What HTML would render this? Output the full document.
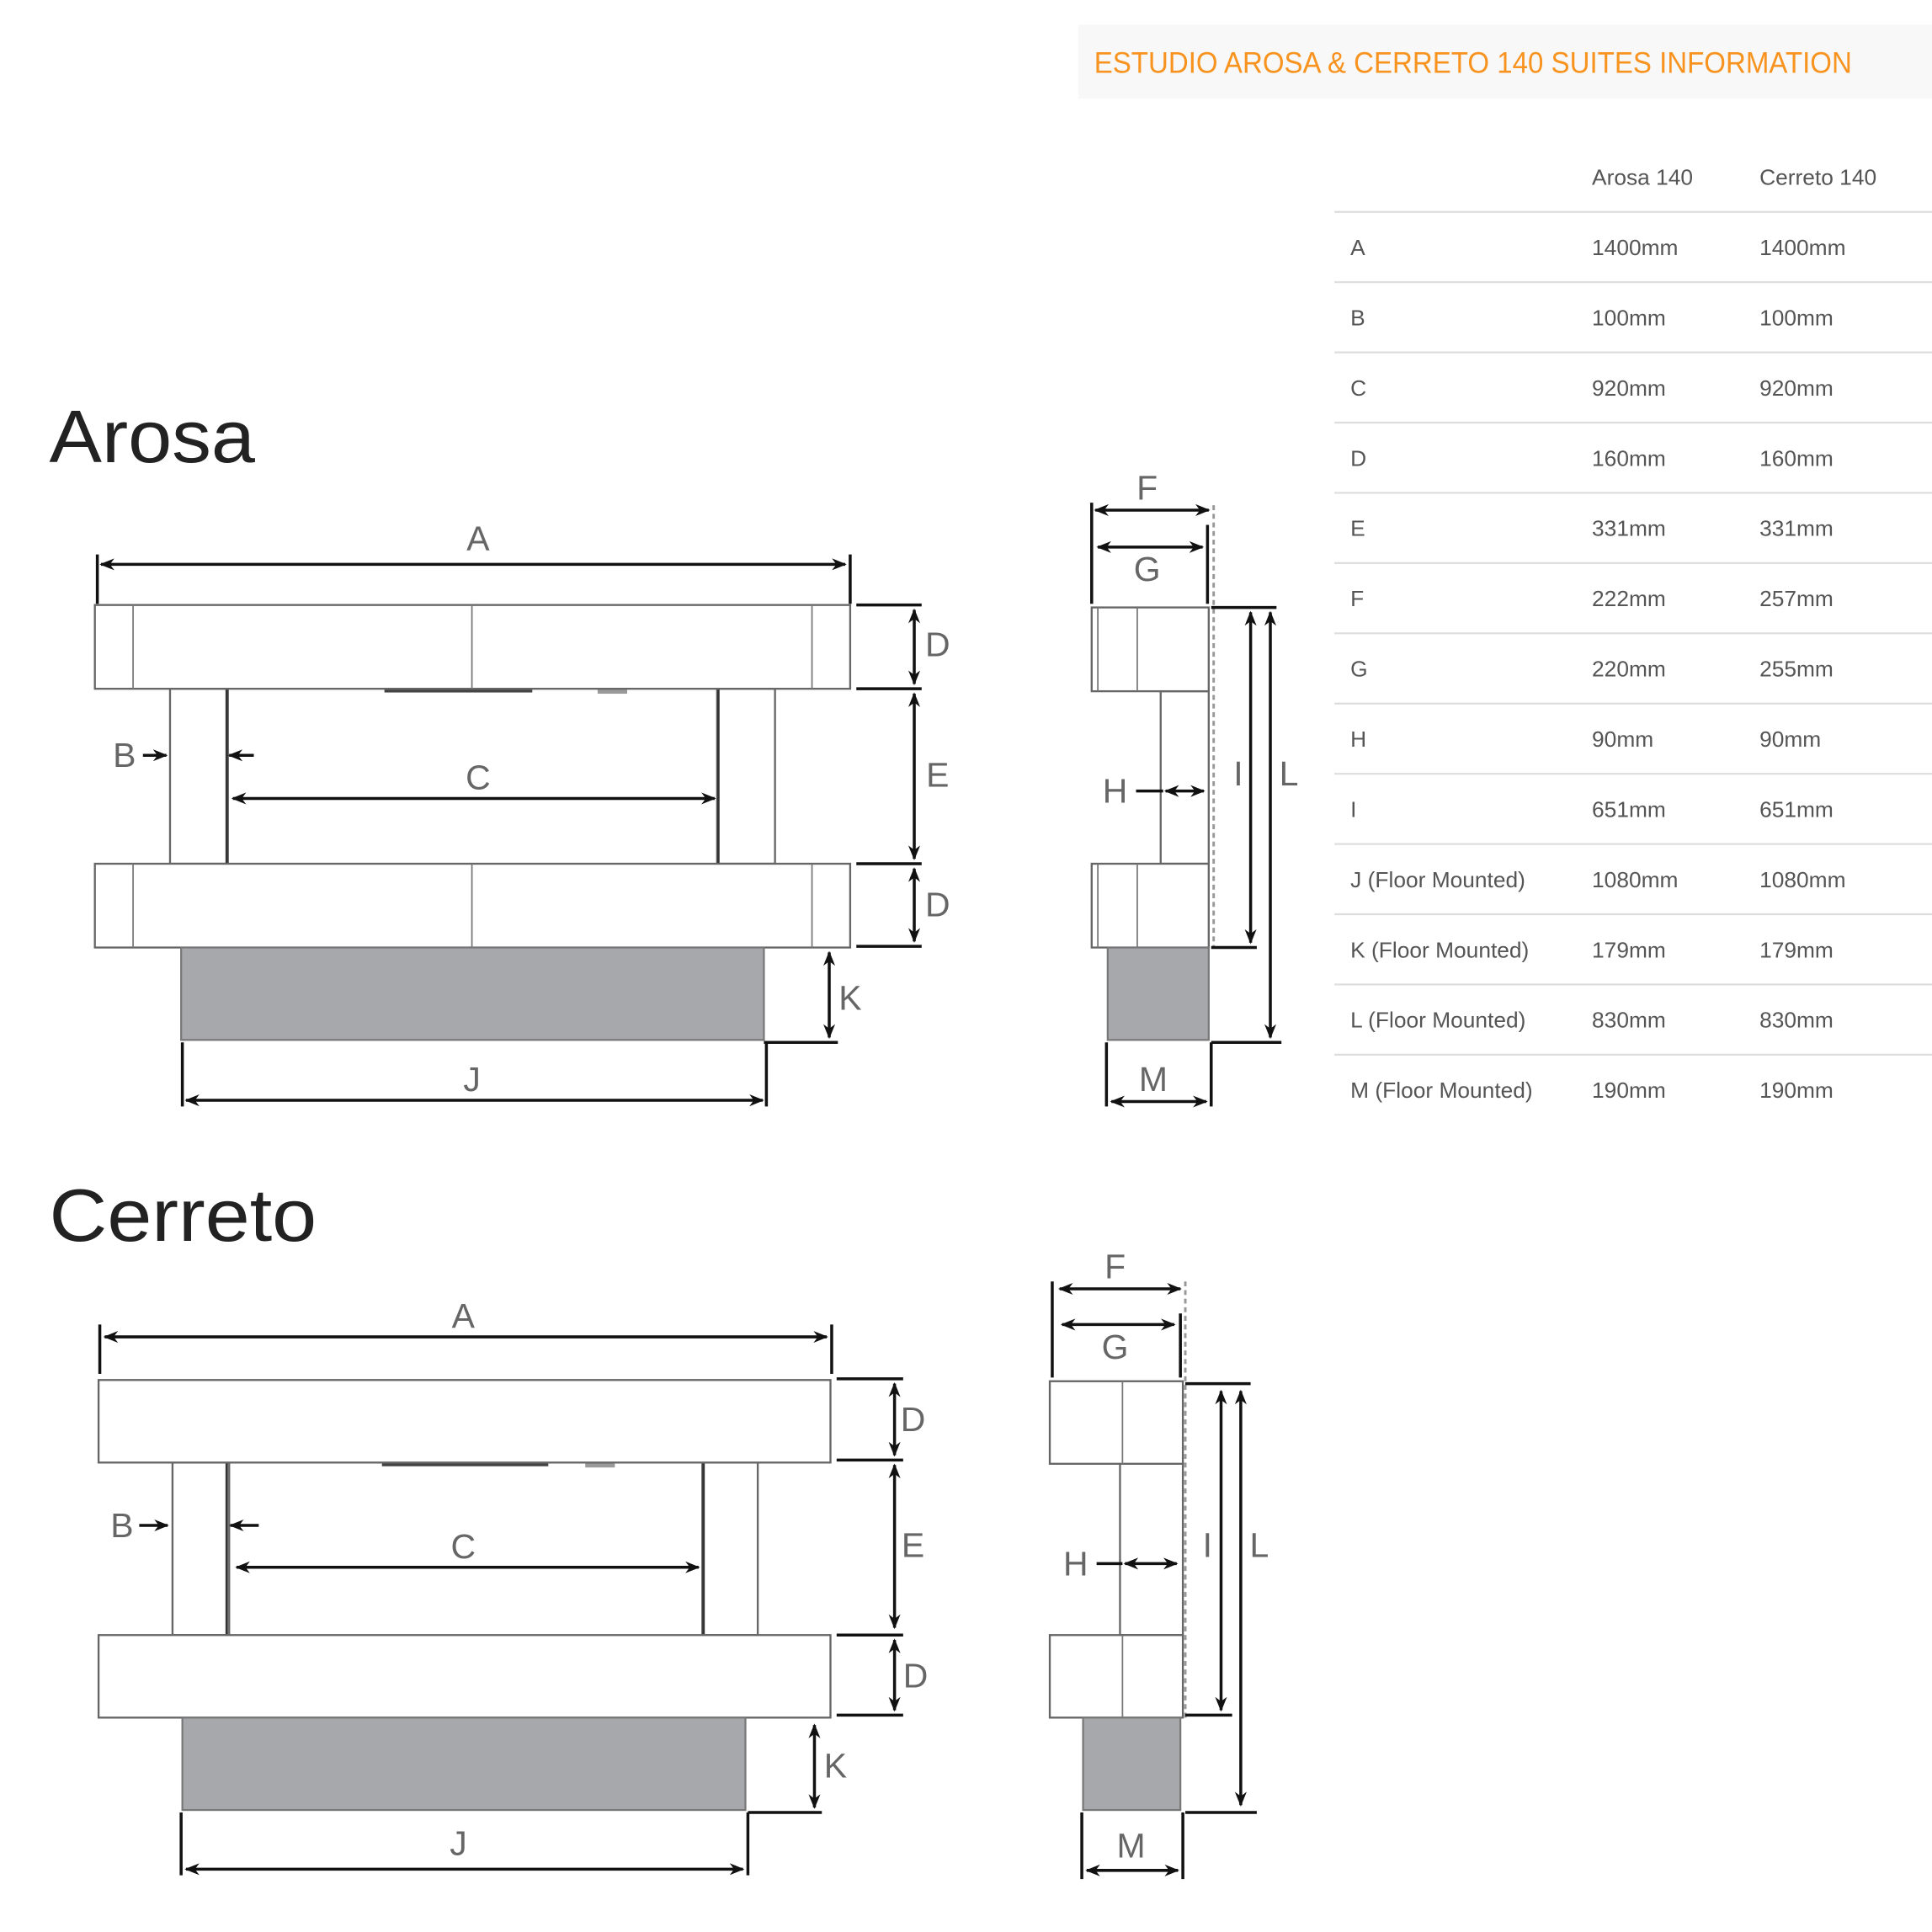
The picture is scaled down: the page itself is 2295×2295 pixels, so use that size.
<!DOCTYPE html>
<html><head><meta charset="utf-8"><style>
html,body{margin:0;padding:0;background:#fff}
svg{display:block}
.t{font-family:"Liberation Sans",sans-serif;fill:#555;font-size:18px}
.l{font-family:"Liberation Sans",sans-serif;fill:#666;font-size:28px;text-anchor:middle;dominant-baseline:central}
.box{fill:#fff;stroke:#666;stroke-width:1.6}
.thin{stroke:#777;stroke-width:1.2;fill:none}
.dim{stroke:#111;stroke-width:2.4;fill:none}
.dimA{stroke:#111;stroke-width:2.4;fill:none;marker-start:url(#ar);marker-end:url(#ar)}
.grey{fill:#a7a8ab;stroke:#777;stroke-width:1.5}
.rule{stroke:#ddd;stroke-width:1.5}
</style></head><body>
<svg width="2295" height="2295" viewBox="0 0 1568 1568" xmlns="http://www.w3.org/2000/svg">
<defs>
<marker id="ar" viewBox="0 0 10 10" refX="9" refY="5" markerWidth="5" markerHeight="5" orient="auto-start-reverse" markerUnits="strokeWidth"><path d="M0,1 L10,5 L0,9 L3,5 z" fill="#111"/></marker>
</defs>
<!-- header -->
<rect x="875" y="20" width="693" height="60" fill="#f8f8f8"/>
<text x="888" y="59" font-family="Liberation Sans,sans-serif" font-size="24" fill="#f7931e" textLength="615" lengthAdjust="spacingAndGlyphs">ESTUDIO AROSA &amp; CERRETO 140 SUITES INFORMATION</text>
<!-- table -->
<text class="t" x="1292" y="150">Arosa 140</text>
<text class="t" x="1428" y="150">Cerreto 140</text>
<g>
<line class="rule" x1="1083" y1="172" x2="1568" y2="172"/>
<line class="rule" x1="1083" y1="229" x2="1568" y2="229"/>
<line class="rule" x1="1083" y1="286" x2="1568" y2="286"/>
<line class="rule" x1="1083" y1="343" x2="1568" y2="343"/>
<line class="rule" x1="1083" y1="400" x2="1568" y2="400"/>
<line class="rule" x1="1083" y1="457" x2="1568" y2="457"/>
<line class="rule" x1="1083" y1="514" x2="1568" y2="514"/>
<line class="rule" x1="1083" y1="571" x2="1568" y2="571"/>
<line class="rule" x1="1083" y1="628" x2="1568" y2="628"/>
<line class="rule" x1="1083" y1="685" x2="1568" y2="685"/>
<line class="rule" x1="1083" y1="742" x2="1568" y2="742"/>
<line class="rule" x1="1083" y1="799" x2="1568" y2="799"/>
<line class="rule" x1="1083" y1="856" x2="1568" y2="856"/>
</g>
<g class="t">
<text x="1096" y="207">A</text><text x="1292" y="207">1400mm</text><text x="1428" y="207">1400mm</text>
<text x="1096" y="264">B</text><text x="1292" y="264">100mm</text><text x="1428" y="264">100mm</text>
<text x="1096" y="321">C</text><text x="1292" y="321">920mm</text><text x="1428" y="321">920mm</text>
<text x="1096" y="378">D</text><text x="1292" y="378">160mm</text><text x="1428" y="378">160mm</text>
<text x="1096" y="435">E</text><text x="1292" y="435">331mm</text><text x="1428" y="435">331mm</text>
<text x="1096" y="492">F</text><text x="1292" y="492">222mm</text><text x="1428" y="492">257mm</text>
<text x="1096" y="549">G</text><text x="1292" y="549">220mm</text><text x="1428" y="549">255mm</text>
<text x="1096" y="606">H</text><text x="1292" y="606">90mm</text><text x="1428" y="606">90mm</text>
<text x="1096" y="663">I</text><text x="1292" y="663">651mm</text><text x="1428" y="663">651mm</text>
<text x="1096" y="720">J (Floor Mounted)</text><text x="1292" y="720">1080mm</text><text x="1428" y="720">1080mm</text>
<text x="1096" y="777">K (Floor Mounted)</text><text x="1292" y="777">179mm</text><text x="1428" y="777">179mm</text>
<text x="1096" y="834">L (Floor Mounted)</text><text x="1292" y="834">830mm</text><text x="1428" y="834">830mm</text>
<text x="1096" y="891">M (Floor Mounted)</text><text x="1292" y="891">190mm</text><text x="1428" y="891">190mm</text>
</g>
<!-- titles -->
<text x="40" y="375" font-family="Liberation Sans,sans-serif" font-size="60" fill="#222" textLength="167" lengthAdjust="spacingAndGlyphs">Arosa</text>
<text x="40" y="1007" font-family="Liberation Sans,sans-serif" font-size="60" fill="#222" textLength="217" lengthAdjust="spacingAndGlyphs">Cerreto</text>

<!-- AROSA FRONT -->
<rect class="box" x="138" y="559" width="47" height="142"/>
<rect class="box" x="582" y="559" width="47" height="142"/>
<line x1="184" y1="559" x2="184" y2="701" stroke="#333" stroke-width="2"/>
<line x1="583" y1="559" x2="583" y2="701" stroke="#333" stroke-width="2"/>
<rect x="312" y="558" width="120" height="4" fill="#444"/>
<rect x="485" y="558" width="24" height="5" fill="#999"/>
<rect class="box" x="77" y="491" width="613" height="68"/>
<line class="thin" x1="108" y1="491" x2="108" y2="559"/><line class="thin" x1="383" y1="491" x2="383" y2="559"/><line class="thin" x1="659" y1="491" x2="659" y2="559"/>
<rect class="box" x="77" y="701" width="613" height="68"/>
<line class="thin" x1="108" y1="701" x2="108" y2="769"/><line class="thin" x1="383" y1="701" x2="383" y2="769"/><line class="thin" x1="659" y1="701" x2="659" y2="769"/>
<rect class="grey" x="147" y="769" width="473" height="75"/>
<path class="dim" d="M79 450V490 M690 450V490 M695 491H748 M695 559H748 M695 701H748 M695 768H748 M620 846H680 M622 846V898 M148 846V898"/>
<line class="dimA" x1="82" y1="458" x2="686" y2="458"/>
<line class="dimA" x1="742" y1="495" x2="742" y2="555"/>
<line class="dimA" x1="742" y1="563" x2="742" y2="697"/>
<line class="dimA" x1="742" y1="705" x2="742" y2="764"/>
<line class="dimA" x1="673" y1="773" x2="673" y2="842"/>
<line class="dimA" x1="151" y1="893" x2="619" y2="893"/>
<line class="dimA" x1="189" y1="648" x2="580" y2="648"/>
<line class="dim" x1="116" y1="613" x2="135" y2="613" style="marker-end:url(#ar)"/>
<line class="dim" x1="206" y1="613" x2="186" y2="613" style="marker-end:url(#ar)"/>
<g class="l"><text x="388" y="437">A</text><text x="761" y="523">D</text><text x="761" y="629">E</text><text x="761" y="734">D</text><text x="690" y="810">K</text><text x="383" y="876">J</text><text x="101" y="613">B</text><text x="388" y="631">C</text></g>

<!-- AROSA SIDE -->
<rect class="box" x="942" y="561" width="39" height="140"/>
<rect class="box" x="886" y="493" width="95" height="68"/>
<line class="thin" x1="891" y1="493" x2="891" y2="561"/><line class="thin" x1="923" y1="493" x2="923" y2="561"/>
<rect class="box" x="886" y="701" width="95" height="68"/>
<line class="thin" x1="891" y1="701" x2="891" y2="769"/><line class="thin" x1="923" y1="701" x2="923" y2="769"/>
<rect class="grey" x="899" y="769" width="82" height="75"/>
<line x1="985" y1="410" x2="985" y2="769" stroke="#999" stroke-width="2" stroke-dasharray="4,3"/>
<path class="dim" d="M886 408V490 M980 426V490 M983 493H1036 M983 769H1020 M983 846H1040 M983 846V898 M898 846V898"/>
<line class="dimA" x1="889" y1="414" x2="981" y2="414"/>
<line class="dimA" x1="891" y1="444" x2="976" y2="444"/>
<line class="dimA" x1="1015" y1="497" x2="1015" y2="765"/>
<line class="dimA" x1="1031" y1="497" x2="1031" y2="842"/>
<line class="dimA" x1="902" y1="894" x2="979" y2="894"/>
<line class="dim" x1="922" y1="642" x2="944" y2="642"/>
<line class="dimA" x1="946" y1="642" x2="977" y2="642"/>
<g class="l"><text x="931" y="396">F</text><text x="931" y="462">G</text><text x="905" y="642">H</text><text x="1005" y="628">I</text><text x="1046" y="628">L</text><text x="936" y="876">M</text></g>

<!-- CERRETO FRONT -->
<rect class="box" x="140" y="1187" width="46" height="140"/>
<rect class="box" x="570" y="1187" width="45" height="140"/>
<line x1="184" y1="1187" x2="184" y2="1327" stroke="#333" stroke-width="2"/>
<line x1="571" y1="1187" x2="571" y2="1327" stroke="#333" stroke-width="2"/>
<rect x="310" y="1186" width="135" height="4" fill="#444"/>
<rect x="475" y="1186" width="24" height="5" fill="#999"/>
<rect class="box" x="80" y="1120" width="594" height="67"/>
<rect class="box" x="80" y="1327" width="594" height="67"/>
<rect class="grey" x="148" y="1394" width="457" height="75"/>
<path class="dim" d="M81 1075V1115 M675 1075V1115 M679 1119H733 M679 1185H733 M679 1327H733 M679 1392H733 M607 1471H667 M607 1471V1522 M147 1471V1522"/>
<line class="dimA" x1="85" y1="1085" x2="671" y2="1085"/>
<line class="dimA" x1="726" y1="1123" x2="726" y2="1181"/>
<line class="dimA" x1="726" y1="1189" x2="726" y2="1321"/>
<line class="dimA" x1="726" y1="1331" x2="726" y2="1388"/>
<line class="dimA" x1="661" y1="1400" x2="661" y2="1467"/>
<line class="dimA" x1="151" y1="1517" x2="603" y2="1517"/>
<line class="dimA" x1="192" y1="1272" x2="567" y2="1272"/>
<line class="dim" x1="113" y1="1238" x2="136" y2="1238" style="marker-end:url(#ar)"/>
<line class="dim" x1="210" y1="1238" x2="187" y2="1238" style="marker-end:url(#ar)"/>
<g class="l"><text x="376" y="1068">A</text><text x="741" y="1152">D</text><text x="741" y="1254">E</text><text x="743" y="1360">D</text><text x="678" y="1433">K</text><text x="372" y="1496">J</text><text x="99" y="1238">B</text><text x="376" y="1255">C</text></g>

<!-- CERRETO SIDE -->
<rect class="box" x="909" y="1188" width="51" height="139"/>
<rect class="box" x="852" y="1121" width="108" height="67"/>
<line class="thin" x1="911" y1="1121" x2="911" y2="1188"/>
<rect class="box" x="852" y="1327" width="108" height="67"/>
<line class="thin" x1="911" y1="1327" x2="911" y2="1394"/>
<rect class="grey" x="879" y="1394" width="79" height="75"/>
<line x1="962" y1="1040" x2="962" y2="1394" stroke="#999" stroke-width="2" stroke-dasharray="4,3"/>
<path class="dim" d="M854 1040V1118 M958 1066V1118 M962 1123H1015 M962 1392H1000 M962 1471H1020 M960 1471V1525 M878 1471V1525"/>
<line class="dimA" x1="860" y1="1046" x2="958" y2="1046"/>
<line class="dimA" x1="862" y1="1075" x2="953" y2="1075"/>
<line class="dimA" x1="991" y1="1129" x2="991" y2="1388"/>
<line class="dimA" x1="1007" y1="1129" x2="1007" y2="1465"/>
<line class="dimA" x1="882" y1="1518" x2="956" y2="1518"/>
<line class="dim" x1="890" y1="1269" x2="911" y2="1269"/>
<line class="dimA" x1="913" y1="1269" x2="955" y2="1269"/>
<g class="l"><text x="905" y="1028">F</text><text x="905" y="1093">G</text><text x="873" y="1269">H</text><text x="980" y="1254">I</text><text x="1022" y="1254">L</text><text x="918" y="1498">M</text></g>
</svg>
</body></html>
